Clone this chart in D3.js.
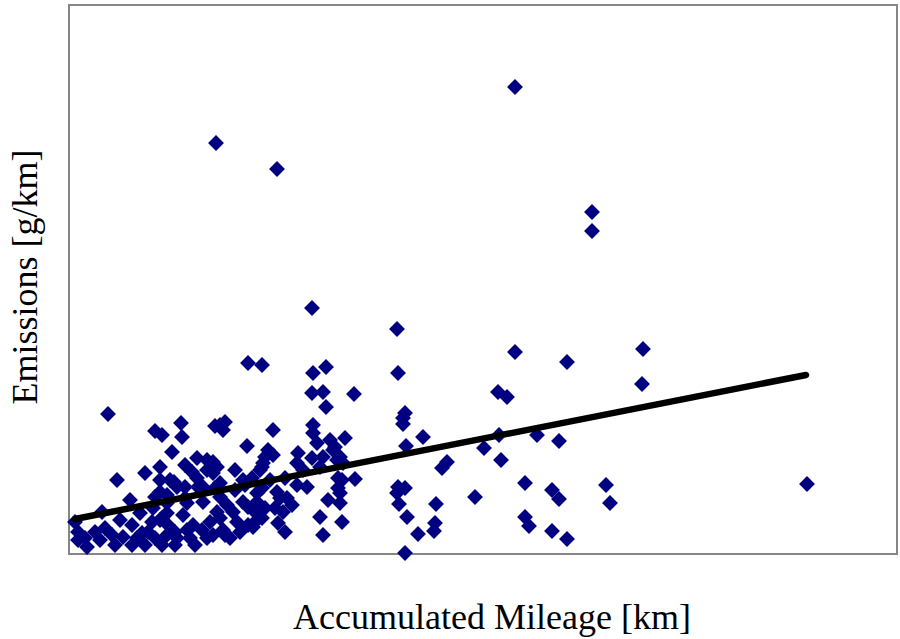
<!DOCTYPE html>
<html>
<head>
<meta charset="utf-8">
<script src="https://cdn.jsdelivr.net/npm/d3@7"></script>
<style>
  body { margin: 0; background: #fff; }
  #container { width: 900px; height: 639px; }
</style>
</head>
<body>
<div id="container"></div>
<script>
// accumulated mileage (km) for each vehicle
const mileage = [
  89000, 29200, 41400, 104400, 104400, 48400, 65400, 114600, 89000, 99400,
  35600, 38400, 51200, 48600, 65600, 114400, 85600, 87400, 48400, 50600,
  56800, 51200, 7600, 67000, 66600, 66600, 22200, 29000, 30000, 31000,
  30600, 17000, 18400, 22400, 40600, 48600, 48600, 49400, 55000, 52000,
  53000, 35400, 39600, 40600, 45600, 70600, 67200, 82800, 85800, 93400,
  97800, 75400, 74400, 86200, 54000, 54600, 57000, 91000, 96400, 97800,
  107200, 108000, 147400, 65600, 67000, 65400, 65800, 73200, 81000, 67400,
  91000, 91800, 73000, 72800, 69600, 96400, 99400, 67000, 54400, 54000,
  54000, 54400, 9400, 15000, 18000, 18000, 12000, 17000, 6400, 1000,
  1600, 3000, 3400, 5000, 7000, 8400, 12400, 13400, 14400, 10600,
  15600, 17000, 18400, 12400, 16400, 18000, 16600, 20400, 25400, 23000,
  24400, 27400, 20800, 23000, 26600, 19400, 23400, 29400, 10000, 19400,
  14000, 28600, 20000, 21400, 25400, 25600, 30000, 29000, 36400, 35000,
  18000, 19400, 23000, 26600, 31400, 32600, 34600, 35600, 37000, 30000,
  18400, 19600, 22600, 24600, 28000, 21000, 23400, 26400, 27400, 33400,
  35600, 34000, 30600, 32000, 19000, 21400, 24000, 28600, 27400, 29400,
  28600, 38000, 38600, 34600, 45400, 46600, 50600, 50000, 52600, 53400,
  39000, 38400, 48400, 53600, 53600, 45400, 47400, 38400, 41400, 51600,
  37400, 39000, 43400, 44400, 41000, 42600, 38400, 50000, 41600, 43000,
  50600, 30000, 37400, 42000, 37400, 36600, 31000, 6000, 9000, 15000,
  21000, 25000, 1600, 33000, 40000, 43000, 33000
];

// emissions (g/km), same order
const emissions = [
  0.934, 0.822, 0.770, 0.684, 0.646, 0.492, 0.450, 0.410, 0.404, 0.384,
  0.382, 0.378, 0.374, 0.362, 0.362, 0.340, 0.324, 0.314, 0.322, 0.324,
  0.320, 0.294, 0.280, 0.282, 0.272, 0.260, 0.262, 0.256, 0.258, 0.264,
  0.248, 0.246, 0.238, 0.234, 0.248, 0.258, 0.242, 0.222, 0.232, 0.228,
  0.214, 0.216, 0.208, 0.198, 0.202, 0.234, 0.216, 0.212, 0.238, 0.238,
  0.226, 0.184, 0.172, 0.188, 0.194, 0.182, 0.150, 0.142, 0.128, 0.110,
  0.138, 0.102, 0.140, 0.134, 0.132, 0.122, 0.100, 0.100, 0.114, 0.074,
  0.074, 0.056, 0.062, 0.046, 0.040, 0.046, 0.030, 0.002, 0.148, 0.122,
  0.102, 0.064, 0.148, 0.162, 0.148, 0.174, 0.108, 0.114, 0.084, 0.064,
  0.044, 0.032, 0.014, 0.044, 0.052, 0.038, 0.058, 0.032, 0.042, 0.034,
  0.044, 0.032, 0.018, 0.018, 0.064, 0.068, 0.092, 0.204, 0.192, 0.178,
  0.164, 0.168, 0.144, 0.134, 0.134, 0.118, 0.102, 0.084, 0.068, 0.082,
  0.082, 0.184, 0.148, 0.134, 0.152, 0.134, 0.142, 0.132, 0.152, 0.138,
  0.124, 0.102, 0.112, 0.104, 0.098, 0.084, 0.104, 0.094, 0.084, 0.072,
  0.072, 0.058, 0.078, 0.058, 0.064, 0.044, 0.048, 0.048, 0.032, 0.064,
  0.058, 0.044, 0.048, 0.032, 0.034, 0.032, 0.032, 0.038, 0.188, 0.174,
  0.162, 0.168, 0.182, 0.148, 0.182, 0.168, 0.194, 0.174, 0.208, 0.188,
  0.194, 0.174, 0.192, 0.152, 0.132, 0.138, 0.134, 0.132, 0.124, 0.108,
  0.104, 0.092, 0.112, 0.098, 0.092, 0.084, 0.072, 0.074, 0.062, 0.044,
  0.038, 0.114, 0.122, 0.112, 0.068, 0.054, 0.038, 0.028, 0.018, 0.018,
  0.018, 0.018, 0.028, 0.128, 0.148, 0.152, 0.168
];

// linear trend line (start and end of the fit)
const trendMileage = [1000, 147200];
const trendEmissions = [0.070, 0.358];

const xLabel = "Accumulated Mileage [km]";
const yLabel = "Emissions [g/km]";

const width = 900;
const height = 639;
const plot = { left: 70, top: 5, right: 897, bottom: 554 };

const svg = d3.select("#container")
  .append("svg")
  .attr("width", width)
  .attr("height", height);

const x = d3.scaleLinear()
  .domain([0, 165400])
  .range([plot.left, plot.right]);

const y = d3.scaleLinear()
  .domain([0, 1.098])
  .range([plot.bottom, plot.top]);

// plot frame
svg.append("rect")
  .attr("x", plot.left - 1)
  .attr("y", plot.top)
  .attr("width", plot.right - plot.left + 1)
  .attr("height", plot.bottom - plot.top)
  .attr("fill", "none")
  .attr("stroke", "#868686")
  .attr("stroke-width", 2);

const points = mileage.map((m, i) => ({ m, e: emissions[i] }));

const diamond = d3.symbol().type(d3.symbolSquare).size(126);

svg.append("g")
  .selectAll("path")
  .data(points)
  .join("path")
  .attr("d", diamond)
  .attr("transform", d => `translate(${x(d.m)},${y(d.e)}) rotate(45)`)
  .attr("fill", "#000080");

const line = d3.line()
  .x(d => x(d[0]))
  .y(d => y(d[1]));

svg.append("path")
  .datum(trendMileage.map((m, i) => [m, trendEmissions[i]]))
  .attr("d", line)
  .attr("fill", "none")
  .attr("stroke", "#000")
  .attr("stroke-width", 6.5)
  .attr("stroke-linecap", "round");

svg.append("text")
  .attr("x", 492)
  .attr("y", 629)
  .attr("text-anchor", "middle")
  .style("font-family", "'Liberation Serif', 'Times New Roman', serif")
  .style("font-size", "36px")
  .text(xLabel);

svg.append("text")
  .attr("transform", "translate(37,277) rotate(-90)")
  .attr("text-anchor", "middle")
  .style("font-family", "'Liberation Serif', 'Times New Roman', serif")
  .style("font-size", "36px")
  .text(yLabel);
</script>
</body>
</html>
